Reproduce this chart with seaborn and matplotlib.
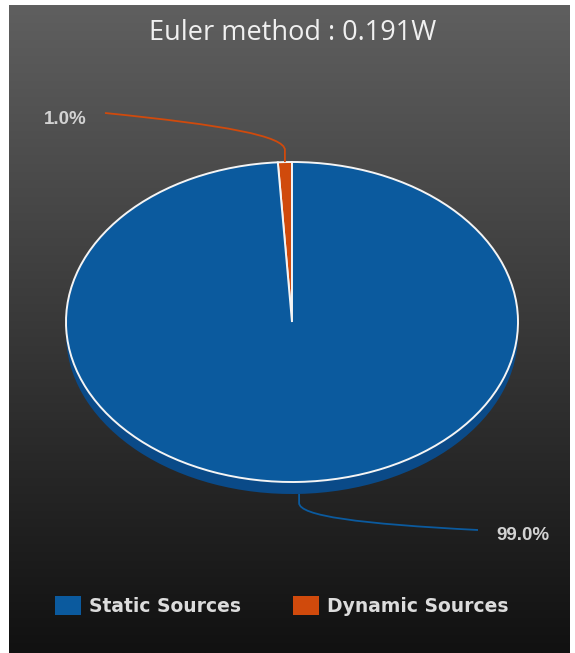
import numpy as np
import matplotlib
matplotlib.use("Agg")
import matplotlib.pyplot as plt
import seaborn as sns
from matplotlib.path import Path
from matplotlib.patches import PathPatch, Patch

# ---- data ----
title = "Euler method : 0.191W"
categories = ["Dynamic Sources", "Static Sources"]
values = [1.0, 99.0]
colors = ["#d04a0c", "#0b5a9e"]
side_colors = ["#a83a08", "#0a4a88"]
legend_order = ["Static Sources", "Dynamic Sources"]

sns.set_theme(style="white")
plt.rcParams["font.family"] = ["DejaVu Sans"]

W, H = 575, 653
fig = plt.figure(figsize=(W / 100, H / 100), dpi=100)
fig.patch.set_facecolor("white")

def fx(px):
    return px / W

def fy(py):
    return 1 - py / H

# background gradient panel
bg = fig.add_axes([fx(9), 0, fx(570 - 9), fy(5)])
grad = np.linspace(0, 1, 256).reshape(-1, 1)
cmap = matplotlib.colors.LinearSegmentedColormap.from_list("bg", ["#5f5f5f", "#111111"])
bg.imshow(grad, aspect="auto", cmap=cmap, extent=[0, 1, 0, 1], origin="upper")
bg.set_axis_off()

# pie axes: center (292,322), semi-axes 226 x 160 px
cx, cy, rx, ry = 292, 322, 226, 160
ylo, yhi = -1.15, 1.0
ax = fig.add_axes([fx(cx - rx), fy(cy - ylo * ry), 2 * rx / W, (yhi - ylo) * ry / H])

depth = 0.075
ax.pie(values, colors=side_colors, startangle=90, counterclock=True,
       radius=1, center=(0, -depth), frame=True,
       wedgeprops=dict(linewidth=0))
wedges, _ = ax.pie(values, colors=colors, startangle=90, counterclock=True,
                   radius=1, center=(0, 0), frame=True,
                   wedgeprops=dict(edgecolor="#f4f4f4", linewidth=1.4))
ax.set_aspect("auto")
ax.set_xlim(-1, 1)
ax.set_ylim(ylo, yhi)
ax.set_axis_off()
ax.patch.set_alpha(0)

def to_data(px, py):
    return ((px - cx) / rx, (cy - py) / ry)

def to_px(x, y):
    return (cx + x * rx, cy - y * ry)

cum = np.cumsum([0] + values)
mids = [90 + (cum[i] + cum[i + 1]) / 2 * 3.6 for i in range(len(values))]

# dynamic (top) leader
a = np.deg2rad(mids[0])
sx, sy = to_px(np.cos(a), np.sin(a))
pts = [(sx, sy), (sx, sy - 12), (sx, sy - 26), (sx - 60, sy - 37), (105, 113)]
ax.add_patch(PathPatch(Path([to_data(*p) for p in pts],
                            [Path.MOVETO, Path.LINETO, Path.CURVE4, Path.CURVE4, Path.CURVE4]),
                       fill=False, edgecolor=colors[0], lw=1.3, clip_on=False))
fig.text(fx(44), fy(119), f"{values[0]:.1f}%", color="#d2d2d2", fontsize=13.5,
         fontweight="bold", family=["Liberation Sans"], va="center", ha="left")

# static (bottom) leader
a = np.deg2rad(mids[1])
sx, sy = to_px(np.cos(a), np.sin(a) - depth)
pts = [(sx, sy), (sx, sy + 9), (sx, sy + 22), (sx + 60, sy + 30), (478, 530)]
ax.add_patch(PathPatch(Path([to_data(*p) for p in pts],
                            [Path.MOVETO, Path.LINETO, Path.CURVE4, Path.CURVE4, Path.CURVE4]),
                       fill=False, edgecolor=colors[1], lw=1.3, clip_on=False))
fig.text(fx(496), fy(535), f"{values[1]:.1f}%", color="#d2d2d2", fontsize=13.5,
         fontweight="bold", family=["Liberation Sans"], va="center", ha="left")

# title
fig.text(fx(293), fy(33), title, color="#f0f0f0", fontsize=19.5, ha="center", va="center",
         family=["Open Sans", "DejaVu Sans"])

# legend
handles = [wedges[categories.index(c)] for c in legend_order]
hs = [Patch(facecolor=h.get_facecolor(), edgecolor="none") for h in handles]
leg = fig.legend(hs, legend_order, loc="center left", bbox_to_anchor=(fx(55), fy(606)),
                 ncol=2, frameon=False, handlelength=1.38, handleheight=1.15,
                 handletextpad=0.45, columnspacing=2.75, borderpad=0, borderaxespad=0,
                 prop=dict(size=13.5, weight="bold", family="DejaVu Sans"))
for t in leg.get_texts():
    t.set_color("#dcdcdc")

fig.savefig("out.png", dpi=100, facecolor=fig.get_facecolor())
